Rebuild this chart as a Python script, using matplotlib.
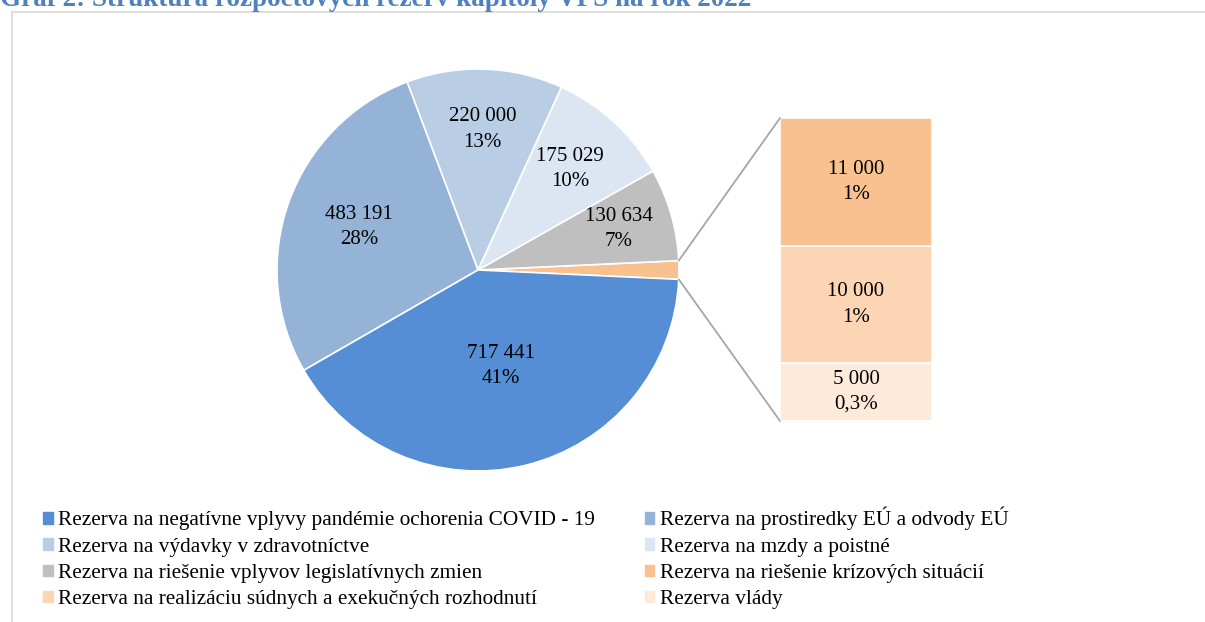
import matplotlib
matplotlib.use("Agg")
import matplotlib.pyplot as plt
from matplotlib.patches import ConnectionPatch, Patch
from matplotlib.lines import Line2D
import numpy as np

plt.rcParams['font.family'] = ['Liberation Serif', 'DejaVu Serif']

title = "Graf 2: Štruktúra rozpočtových rezerv kapitoly VPS na rok 2022"

# main pie (the last entry "Other" is split into the bar on the right)
pie_names = ["Rezerva na riešenie vplyvov legislatívnych zmien",
             "Rezerva na mzdy a poistné",
             "Rezerva na výdavky v zdravotníctve",
             "Rezerva na prostiredky EÚ a odvody EÚ",
             "Rezerva na negatívne vplyvy pandémie ochorenia COVID - 19"]
pie_values = [130634, 175029, 220000, 483191, 717441]
pie_colors = ["#BFBFBF", "#DCE6F2", "#B9CDE5", "#95B3D7", "#558ED5"]

# secondary stack (bottom to top)
bar_names = ["Rezerva vlády",
             "Rezerva na realizáciu súdnych a exekučných rozhodnutí",
             "Rezerva na riešenie krízových situácií"]
bar_values = [5000, 10000, 11000]
bar_colors = ["#FDEADA", "#FCD5B5", "#F9C090"]
other_color = "#F9C090"

total = sum(pie_values) + sum(bar_values)


def fmt_num(v):
    return f"{v:,}".replace(",", " ")


def fmt_pct(v):
    p = v / total * 100
    if p < 0.5:
        return f"{p:.1f}%".replace(".", ",")
    return f"{p:.0f}%"


W, H = 1205, 622
fig = plt.figure(figsize=(W / 100, H / 100), dpi=100)

# pie axes in pixel units
ax = fig.add_axes([0, 0, 1, 1])
other = sum(bar_values)
values = [other] + pie_values
colors = [other_color] + pie_colors
start = -other / total * 360 / 2
cx, cy, R = 478, H - 270, 201
wedges, _ = ax.pie(values, colors=colors, startangle=start, counterclock=True,
                   center=(cx, cy), radius=R,
                   wedgeprops=dict(edgecolor="white", linewidth=1.2))
ax.set_xlim(0, W)
ax.set_ylim(0, H)
ax.set_aspect("equal")
ax.axis("off")

label_r = [0.73, 0.68, 0.7, 0.63, 0.49]
for w, v, r in zip(wedges[1:], pie_values, label_r):
    mid = np.deg2rad((w.theta1 + w.theta2) / 2)
    ax.text(cx + r * R * np.cos(mid), cy + r * R * np.sin(mid),
            f"{fmt_num(v)}\n{fmt_pct(v)}", ha="center", va="center",
            fontsize=15, linespacing=1.45, color="black")

# stacked bar
bx = fig.add_axes([780 / W, (H - 421) / H, 152 / W, 303 / H])
bottom = 0
for v, c in zip(bar_values, bar_colors):
    bx.bar(0, v, width=1, bottom=bottom, color=c, edgecolor="white", linewidth=1.2)
    bx.text(0, bottom + v / 2, f"{fmt_num(v)}\n{fmt_pct(v)}", ha="center",
            va="center", fontsize=15, linespacing=1.45)
    bottom += v
bx.set_xlim(-0.5, 0.5)
bx.set_ylim(0, bottom)
bx.axis("off")

# connector lines
w0 = wedges[0]
for ang, yb in [(w0.theta2, bottom), (w0.theta1, 0)]:
    a = np.deg2rad(ang)
    con = ConnectionPatch(xyA=(cx + R * np.cos(a), cy + R * np.sin(a)), coordsA=ax.transData,
                          xyB=(-0.5, yb), coordsB=bx.transData,
                          color="#A6A6A6", linewidth=1.3)
    fig.add_artist(con)

# legend (row-wise order like the original)
handles = [Patch(color=pie_colors[4]), Patch(color=pie_colors[2]),
           Patch(color=pie_colors[0]), Patch(color=bar_colors[1]),
           Patch(color=pie_colors[3]), Patch(color=pie_colors[1]),
           Patch(color=bar_colors[2]), Patch(color=bar_colors[0])]
labels = [pie_names[4], pie_names[2], pie_names[0], bar_names[1],
          pie_names[3], pie_names[1], bar_names[2], bar_names[0]]
fig.legend(handles, labels, ncol=2, loc="upper left",
           bbox_to_anchor=(43 / W, 1 - 507 / H), frameon=False,
           fontsize=15.3, handlelength=0.45, handleheight=0.45,
           handletextpad=0.25, columnspacing=2.35, labelspacing=0.34,
           borderpad=0, borderaxespad=0)

# chart frame
fig.add_artist(Line2D([12 / W, 12 / W], [0, 1 - 12 / H], color="#D9D9D9", linewidth=1.2))
fig.add_artist(Line2D([12 / W, 1], [1 - 12 / H, 1 - 12 / H], color="#D9D9D9", linewidth=1.2))

fig.text(0, 1 - 6 / H, title, fontsize=19.5, fontweight="bold", color="#4F81BD",
         ha="left", va="baseline")

fig.savefig("out.png", dpi=100)
